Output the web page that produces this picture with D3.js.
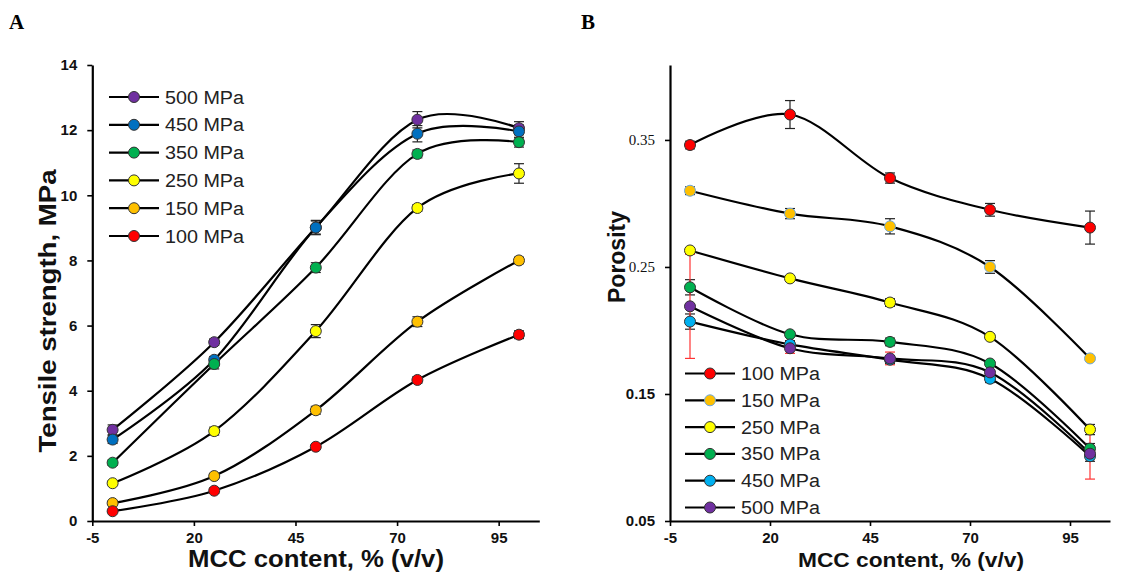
<!DOCTYPE html>
<html>
<head>
<meta charset="utf-8">
<script src="https://cdn.jsdelivr.net/npm/d3@7"></script>
<style>
  html, body { margin: 0; padding: 0; background: #fff; }
  svg { display: block; }
</style>
</head>
<body>
<svg id="chart" width="1121" height="579"></svg>
<script>
// ---------- DATA ----------
const mccContent = [0, 25, 50, 75, 100];
const xTicks = [-5, 20, 45, 70, 95];

// Panel A: tensile strength (MPa)
const strengthSeries = ["500 MPa", "450 MPa", "350 MPa", "250 MPa", "150 MPa", "100 MPa"];
const strengthColors = ["#7030A0", "#0070C0", "#00B050", "#FFFF00", "#FFC000", "#FF0000"];
const strength500 = [2.80, 5.49, 9.01, 12.32, 12.06];
const strength450 = [2.50, 4.95, 9.01, 11.89, 11.96];
const strength350 = [1.79, 4.82, 7.78, 11.27, 11.63];
const strength250 = [1.16, 2.76, 5.83, 9.61, 10.67];
const strength150 = [0.55, 1.38, 3.40, 6.12, 8.00];
const strength100 = [0.30, 0.93, 2.28, 4.33, 5.72];
const strengthErr500 = [0.15, 0.10, 0.20, 0.25, 0.20];
const strengthErr450 = [0.12, 0.10, 0.22, 0.25, 0.20];
const strengthErr350 = [0.08, 0.15, 0.15, 0.12, 0.15];
const strengthErr250 = [0.06, 0.12, 0.20, 0.10, 0.30];
const strengthErr150 = [0.05, 0.06, 0.12, 0.15, 0.10];
const strengthErr100 = [0.03, 0.08, 0.06, 0.10, 0.12];
const strengthTicks = [0, 2, 4, 6, 8, 10, 12, 14];

// Panel B: porosity
const porositySeries = ["100 MPa", "150 MPa", "250 MPa", "350 MPa", "450 MPa", "500 MPa"];
const porosityColors = ["#FF0000", "#FFC000", "#FFFF00", "#00B050", "#00B0F0", "#7030A0"];
const porosity100 = [0.346, 0.370, 0.320, 0.295, 0.281];
const porosity150 = [0.310, 0.292, 0.282, 0.250, 0.178];
const porosity250 = [0.263, 0.241, 0.222, 0.195, 0.122];
const porosity350 = [0.234, 0.197, 0.191, 0.174, 0.107];
const porosity450 = [0.207, 0.189, 0.177, 0.162, 0.101];
const porosity500 = [0.219, 0.186, 0.178, 0.167, 0.103];
const porosityErr100 = [0.003, 0.011, 0.004, 0.005, 0.013];
const porosityErr150 = [0.003, 0.004, 0.006, 0.005, 0.002];
const porosityErr250 = [0.002, 0.002, 0.003, 0.002, 0.004];
const porosityErr350 = [0.006, 0.002, 0.003, 0.002, 0.004];
const porosityErr450 = [0.006, 0.003, 0.003, 0.003, 0.004];
const porosityErr500 = [0.041, 0.004, 0.005, 0.006, 0.020];
const porosityTicks = [0.05, 0.15, 0.25, 0.35];

// ---------- DRAW ----------
const svg = d3.select("#chart");
const SANS = "'Liberation Sans', Arial, sans-serif";
const NARROW = "'Liberation Sans Narrow', 'Arial Narrow', 'Liberation Sans', sans-serif";
const SERIF = "'Liberation Serif', 'Times New Roman', serif";

function panel(cfg) {
  const g = svg.append("g");
  const x = d3.scaleLinear().domain([-5, 105]).range(cfg.xRange);
  const y = d3.scaleLinear().domain(cfg.yDomain).range([521, 65]);

  // axes
  const xAxis = d3.axisBottom(x).tickValues(xTicks).tickSize(5).tickPadding(6).tickSizeOuter(0)
    .tickFormat(d => String(d));
  const yAxis = d3.axisLeft(y).tickValues(cfg.yTicks).tickSize(5).tickPadding(10).tickSizeOuter(0)
    .tickFormat(cfg.yFormat);
  const gx = g.append("g").attr("transform", `translate(0,${y.range()[0]})`).call(xAxis);
  const gy = g.append("g").attr("transform", `translate(${x.range()[0]},0)`).call(yAxis);
  [gx, gy].forEach(a => {
    a.select(".domain").attr("stroke", "#000").attr("stroke-width", 2.2);
    a.selectAll(".tick line").attr("stroke", "#000").attr("stroke-width", 1.6);
    a.selectAll(".tick text").attr("fill", "#111").attr("font-family", NARROW)
      .attr("font-weight", "bold").attr("font-size", 15);
  });
  if (cfg.yTickStyle) gy.selectAll(".tick text").each(function(d) { cfg.yTickStyle(d3.select(this), d); });

  // series
  const line = d3.line().x((d, i) => x(mccContent[i])).y(d => y(d)).curve(d3.curveCardinal.tension(0));
  cfg.series.forEach((name, si) => {
    g.append("path").datum(cfg.values[si]).attr("d", line)
      .attr("fill", "none").attr("stroke", "#000").attr("stroke-width", 2.2);
  });
  cfg.series.forEach((name, si) => {
    const vals = cfg.values[si], errs = cfg.errors[si];
    const ec = cfg.errColor ? cfg.errColor(si) : "#222";
    const eb = g.append("g");
    vals.forEach((v, i) => {
      const cx = x(mccContent[i]);
      const y1 = y(v + errs[i]), y2 = y(v - errs[i]);
      eb.append("line").attr("x1", cx).attr("x2", cx).attr("y1", y1).attr("y2", y2)
        .attr("stroke", ec).attr("stroke-width", 1.2);
      [y1, y2].forEach(yy => eb.append("line").attr("x1", cx - 5).attr("x2", cx + 5)
        .attr("y1", yy).attr("y2", yy).attr("stroke", ec).attr("stroke-width", 1.2));
    });
  });
  cfg.series.forEach((name, si) => {
    g.append("g").selectAll("circle").data(cfg.values[si]).join("circle")
      .attr("cx", (d, i) => x(mccContent[i])).attr("cy", d => y(d)).attr("r", 5.5)
      .attr("fill", cfg.colors[si]).attr("stroke", cfg.markerStroke(si)).attr("stroke-width", 1);
  });

  // legend
  const lg = g.append("g");
  cfg.series.forEach((name, si) => {
    const ly = cfg.legend.y0 + si * cfg.legend.dy;
    lg.append("line").attr("x1", cfg.legend.x).attr("x2", cfg.legend.x + 50)
      .attr("y1", ly).attr("y2", ly).attr("stroke", "#000").attr("stroke-width", 2.2);
    lg.append("circle").attr("cx", cfg.legend.x + 25).attr("cy", ly).attr("r", 5.5)
      .attr("fill", cfg.colors[si]).attr("stroke", cfg.markerStroke(si)).attr("stroke-width", 1);
    lg.append("text").attr("x", cfg.legend.x + 56).attr("y", ly + 6.5).text(name)
      .attr("font-family", SANS).attr("font-size", 18).attr("fill", "#222")
      .attr("textLength", 79).attr("lengthAdjust", "spacingAndGlyphs");
  });

  // title
  g.append("text").attr("x", cfg.title.x).attr("y", cfg.title.y).text(cfg.title.text)
    .attr("font-family", SANS).attr("font-weight", "bold").attr("font-size", 24)
    .attr("fill", "#111").style("white-space", "pre")
    .attr("textLength", 410).attr("lengthAdjust", "spacingAndGlyphs");
  // x label
  g.append("text").attr("x", cfg.xLabel.x).attr("y", 567).attr("text-anchor", "middle")
    .text("MCC content, % (v/v)").attr("font-family", SANS).attr("font-weight", "bold")
    .attr("font-size", cfg.xLabel.size).attr("fill", "#111")
    .attr("textLength", cfg.xLabel.len).attr("lengthAdjust", "spacingAndGlyphs");
  // y label
  const yl = g.append("text").attr("transform", `translate(${cfg.yLabel.x},${cfg.yLabel.y}) rotate(-90)`)
    .attr("text-anchor", "middle").text(cfg.yLabel.text).attr("font-family", SANS)
    .attr("font-weight", "bold").attr("font-size", cfg.yLabel.size).attr("fill", "#111");
  if (cfg.yLabel.len) yl.attr("textLength", cfg.yLabel.len).attr("lengthAdjust", "spacingAndGlyphs");
  // panel letter
  svg.append("text").attr("x", cfg.letter.x).attr("y", 29).text(cfg.letter.text)
    .attr("font-family", SERIF).attr("font-weight", "bold").attr("font-size", 21).attr("fill", "#000");
}

panel({
  xRange: [92.3, 539.3],
  yDomain: [0, 14],
  yTicks: strengthTicks,
  yFormat: d3.format("d"),
  series: strengthSeries,
  colors: strengthColors,
  values: [strength500, strength450, strength350, strength250, strength150, strength100],
  errors: [strengthErr500, strengthErr450, strengthErr350, strengthErr250, strengthErr150, strengthErr100],
  markerStroke: () => "#333",
  legend: { x: 109, y0: 97, dy: 27.8 },
  title: { x: 129, y: 68 },
  xLabel: { x: 316, size: 23, len: 256 },
  yLabel: { x: 56, y: 311, text: "Tensile strength, MPa", size: 24, len: 283 },
  letter: { x: 9, text: "A" }
});

panel({
  xRange: [670, 1110],
  yDomain: [0.05, 0.409],
  yTicks: porosityTicks,
  yFormat: d3.format(".2f"),
  yTickStyle: (t, d) => {
    if (d > 0.2) t.attr("font-family", SERIF).attr("font-weight", "normal").attr("font-size", 15);
  },
  series: porositySeries,
  colors: porosityColors,
  values: [porosity100, porosity150, porosity250, porosity350, porosity450, porosity500],
  errors: [porosityErr100, porosityErr150, porosityErr250, porosityErr350, porosityErr450, porosityErr500],
  errColor: si => si === 5 ? "#FF3333" : "#222",
  markerStroke: si => si === 1 ? "#6FA8DC" : "#333",
  legend: { x: 685, y0: 373.5, dy: 26.8 },
  title: { x: 703, y: 71 },
  xLabel: { x: 911, size: 21, len: 226 },
  yLabel: { x: 624.5, y: 257, text: "Porosity", size: 23, len: 92 },
  letter: { x: 581, text: "B" }
});
</script>
</body>
</html>
